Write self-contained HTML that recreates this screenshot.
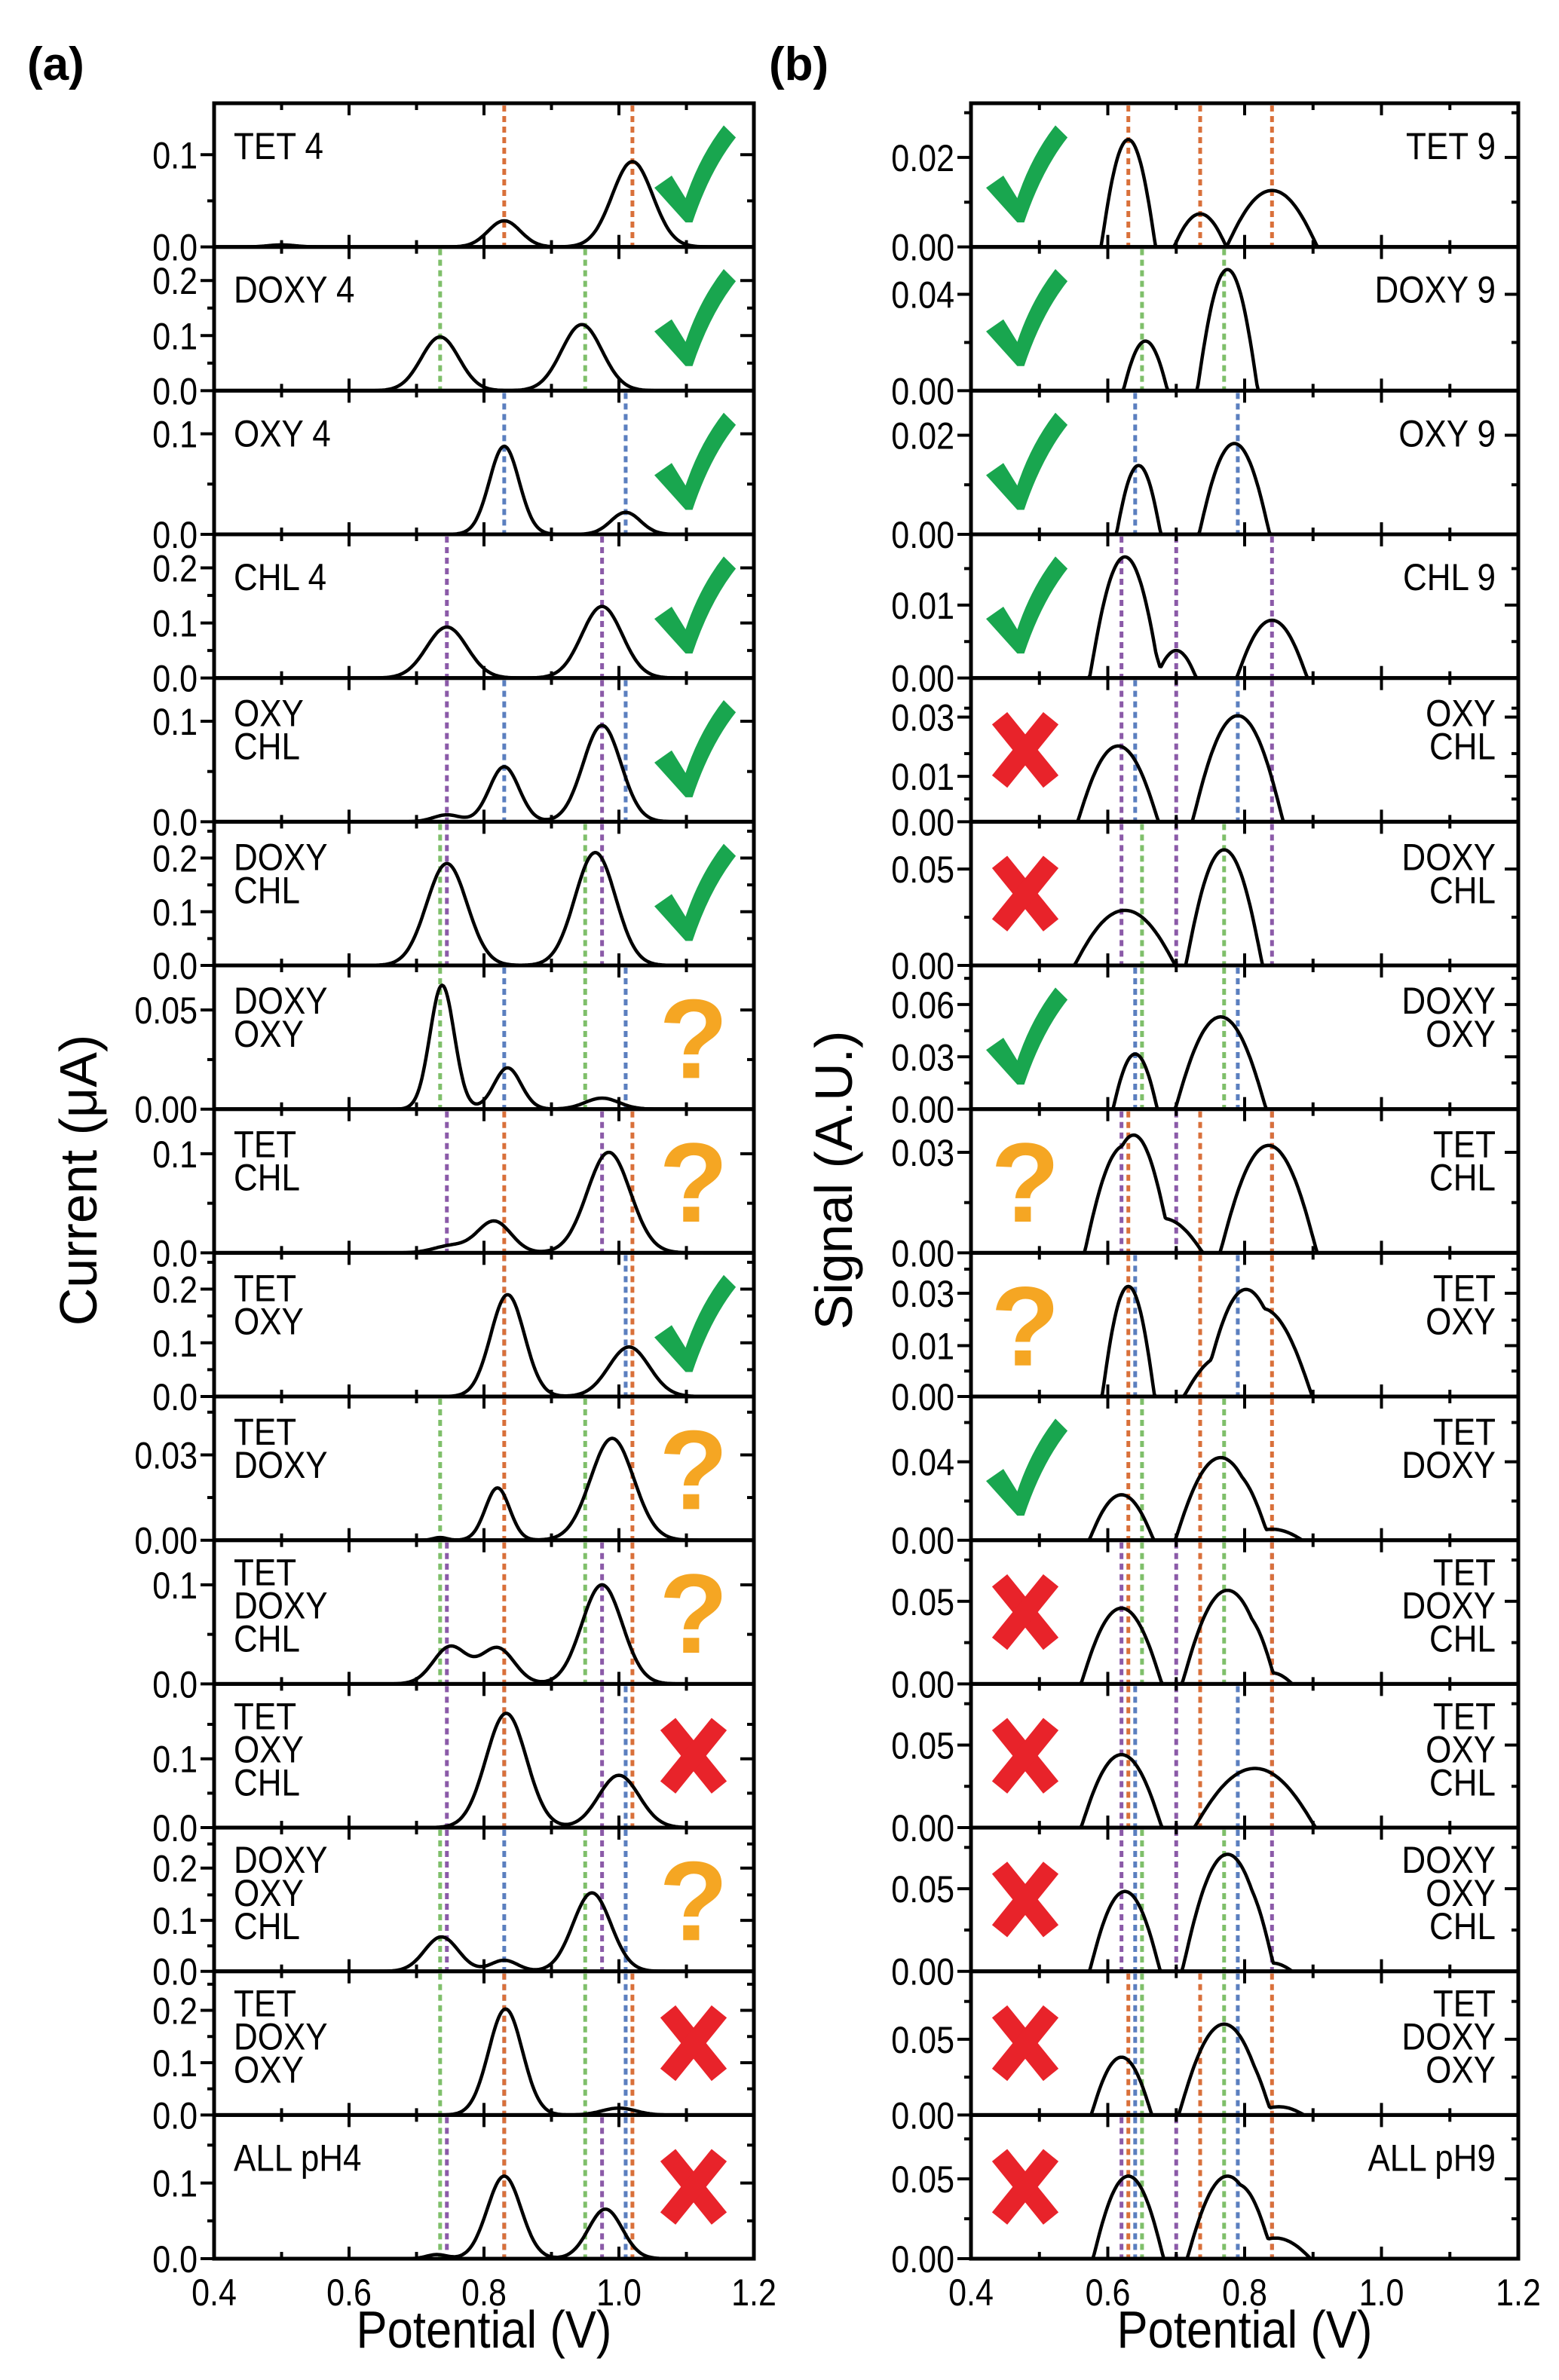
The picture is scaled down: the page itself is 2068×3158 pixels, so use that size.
<!DOCTYPE html>
<html><head><meta charset="utf-8">
<style>
html,body{margin:0;padding:0;background:#fff;}
svg{display:block;}
text{font-family:"Liberation Sans",Arial,sans-serif;}
</style></head>
<body>
<svg id="s" width="2068" height="3158" viewBox="0 0 2068 3158" xmlns="http://www.w3.org/2000/svg"></svg>
<script>
const S=document.getElementById('s');
let out='';
const TOP=137, H=190.67;
const COL={T:'#d9703a',D:'#7fbf6a',O:'#5b7fbf',C:'#8b5aa8'};
const REFL={T:[0.83,1.02],D:[0.735,0.95],O:[0.83,1.01],C:[0.745,0.975]};
const REFR={T:[0.63,0.735,0.84],D:[0.65,0.77],O:[0.64,0.79],C:[0.62,0.70,0.84]};
const PL={x0:284,x1:1000}, PR={x0:1288,x1:2014};
const L=[
 [['TET 4'],'T',[[0,'0.0'],[0.67,'0.1']],[[0.5,0.015,0.02],[0.83,0.19,0.024],[1.02,0.62,0.03]],'c'],
 [['DOXY 4'],'D',[[0,'0.0'],[0.4,'0.1'],[0.8,'0.2']],[[0.735,0.39,0.028],[0.945,0.48,0.03]],'c'],
 [['OXY 4'],'O',[[0,'0.0'],[0.73,'0.1']],[[0.83,0.64,0.022],[1.01,0.16,0.022]],'c'],
 [['CHL 4'],'C',[[0,'0.0'],[0.4,'0.1'],[0.8,'0.2']],[[0.745,0.37,0.03],[0.975,0.52,0.03]],'c'],
 [['OXY','CHL'],'CO',[[0,'0.0'],[0.73,'0.1']],[[0.745,0.05,0.02],[0.83,0.4,0.022],[0.975,0.7,0.028]],'c'],
 [['DOXY','CHL'],'DC',[[0,'0.0'],[0.39,'0.1'],[0.78,'0.2']],[[0.745,0.74,0.03],[0.965,0.82,0.03]],'c'],
 [['DOXY','OXY'],'DO',[[0,'0.00'],[0.72,'0.05']],[[0.738,0.9,0.018],[0.835,0.3,0.02],[0.975,0.08,0.025]],'q'],
 [['TET','CHL'],'CT',[[0,'0.0'],[0.72,'0.1']],[[0.75,0.05,0.025],[0.815,0.23,0.025],[0.985,0.73,0.032]],'q'],
 [['TET','OXY'],'OT',[[0,'0.0'],[0.39,'0.1'],[0.78,'0.2']],[[0.835,0.74,0.025],[1.015,0.36,0.03]],'c'],
 [['TET','DOXY'],'DT',[[0,'0.00'],[0.62,'0.03']],[[0.735,0.02,0.01],[0.82,0.38,0.018],[0.99,0.74,0.032]],'q'],
 [['TET','DOXY','CHL'],'DCT',[[0,'0.0'],[0.72,'0.1']],[[0.75,0.27,0.025],[0.82,0.26,0.025],[0.975,0.72,0.03]],'q'],
 [['TET','OXY','CHL'],'COT',[[0,'0.0'],[0.5,'0.1']],[[0.833,0.83,0.03],[1.0,0.38,0.03]],'x'],
 [['DOXY','OXY','CHL'],'DCO',[[0,'0.0'],[0.37,'0.1'],[0.75,'0.2']],[[0.737,0.25,0.025],[0.83,0.08,0.02],[0.96,0.57,0.028]],'q'],
 [['TET','DOXY','OXY'],'DOT',[[0,'0.0'],[0.38,'0.1'],[0.76,'0.2']],[[0.832,0.77,0.025],[1.0,0.05,0.025]],'x'],
 [['ALL pH4'],'DCOT',[[0,'0.0'],[0.55,'0.1']],[[0.73,0.03,0.015],[0.83,0.6,0.025],[0.98,0.36,0.025]],'x']
];
const R=[
 [['TET 9'],'T',[[0,'0.00'],[0.65,'0.02']],[[0.63,0.78,0.027],[0.735,0.24,0.026],[0.84,0.41,0.045]],'c'],
 [['DOXY 9'],'D',[[0,'0.00'],[0.7,'0.04']],[[0.655,0.36,0.022],[0.775,0.88,0.03]],'c'],
 [['OXY 9'],'O',[[0,'0.00'],[0.72,'0.02']],[[0.645,0.5,0.022],[0.785,0.66,0.035]],'c'],
 [['CHL 9'],'C',[[0,'0.00'],[0.53,'0.01']],[[0.625,0.88,0.035],[0.70,0.2,0.02],[0.84,0.42,0.035]],'c'],
 [['OXY','CHL'],'CO',[[0,'0.00'],[0.33,'0.01'],[0.76,'0.03']],[[0.615,0.55,0.04],[0.79,0.77,0.045]],'x'],
 [['DOXY','CHL'],'DC',[[0,'0.00'],[0.7,'0.05']],[[0.625,0.4,0.05],[0.77,0.84,0.038]],'x'],
 [['DOXY','OXY'],'DO',[[0,'0.00'],[0.38,'0.03'],[0.76,'0.06']],[[0.64,0.4,0.022],[0.765,0.67,0.045]],'c'],
 [['TET','CHL'],'CT',[[0,'0.00'],[0.73,'0.03']],[[0.625,0.78,0.04],[0.68,0.25,0.04],[0.835,0.78,0.048]],'q'],
 [['TET','OXY'],'OT',[[0,'0.00'],[0.37,'0.01'],[0.75,'0.03']],[[0.63,0.8,0.026],[0.77,0.3,0.04],[0.825,0.64,0.05]],'q'],
 [['TET','DOXY'],'DT',[[0,'0.00'],[0.57,'0.04']],[[0.62,0.33,0.032],[0.765,0.6,0.045],[0.84,0.08,0.03]],'c'],
 [['TET','DOXY','CHL'],'DCT',[[0,'0.00'],[0.6,'0.05']],[[0.62,0.55,0.04],[0.775,0.68,0.045],[0.84,0.08,0.02]],'x'],
 [['TET','OXY','CHL'],'COT',[[0,'0.00'],[0.6,'0.05']],[[0.62,0.53,0.04],[0.815,0.43,0.06]],'x'],
 [['DOXY','OXY','CHL'],'DCO',[[0,'0.00'],[0.6,'0.05']],[[0.625,0.58,0.035],[0.775,0.85,0.045],[0.84,0.06,0.02]],'x'],
 [['TET','DOXY','OXY'],'DOT',[[0,'0.00'],[0.55,'0.05']],[[0.62,0.42,0.03],[0.77,0.66,0.045],[0.85,0.06,0.025]],'x'],
 [['ALL pH9'],'DCOT',[[0,'0.00'],[0.58,'0.05']],[[0.63,0.6,0.035],[0.775,0.6,0.04],[0.845,0.15,0.035]],'x']
];
function X(p,v){return p.x0+(v-0.4)/0.8*(p.x1-p.x0);}
function icon(type,cx,cy){
 if(type==='c'){
  out+=`<path transform="translate(${cx-52},${cy-66}) scale(1.15)" d="M0,72 L20,58 L36,84 Q52,36 80,0 L94,14 Q64,52 44,112 L36,112 Z" fill="#19a64f"/>`;
 }else if(type==='x'){
  out+=`<g stroke="#e8232a" stroke-width="26"><line x1="${cx-34}" y1="${cy-42}" x2="${cx+34}" y2="${cy+42}"/><line x1="${cx+34}" y1="${cy-42}" x2="${cx-34}" y2="${cy+42}"/></g>`;
 }else{
  out+=`<text x="${cx}" y="${cy+54}" font-size="150" font-weight="bold" fill="#f5a623" text-anchor="middle">?</text>`;
 }
}
function panel(p,d,i,side){
 const top=TOP+i*H, bot=top+H, ph=H-8;
 const [lines,refs,ticks,peaks,ic]=d;
 const REF=side==='L'?REFL:REFR;
 for(const k of refs){for(const v of REF[k]){const x=X(p,v);
  out+=`<line x1="${x}" y1="${top+3}" x2="${x}" y2="${bot-2}" stroke="${COL[k]}" stroke-width="5" stroke-dasharray="8 6"/>`;}}
 let pts=[];
 for(let k=0;k<=400;k++){const v=0.4+0.8*k/400;let y=0;
  for(const [c,h,s] of peaks){
   if(side==='L'){y+=h*Math.exp(-0.5*((v-c)/s)**2);}
   else{const u=(v-c)/s;const t=1-u*u/2.2; if(t>0) y+=h*Math.pow(t,1.1);}
  }
  pts.push(X(p,v).toFixed(1)+','+(bot-y*ph).toFixed(1));}
 out+=`<polyline points="${pts.join(' ')}" fill="none" stroke="#000" stroke-width="4.5" stroke-linejoin="round"/>`;
 const maj=ticks.map(t=>t[0]);const step=maj.length>1?maj[1]-maj[0]:0.4;
 for(let f=step/2; f<1; f+=step){ if(maj.some(m=>Math.abs(m-f)<0.01))continue;const y=bot-f*ph;
  out+=`<line x1="${p.x0-9}" y1="${y}" x2="${p.x0}" y2="${y}" stroke="#000" stroke-width="4"/><line x1="${p.x1-9}" y1="${y}" x2="${p.x1}" y2="${y}" stroke="#000" stroke-width="4"/>`;}
 for(const [f,lab] of ticks){const y=bot-f*ph;
  out+=`<line x1="${p.x0-18}" y1="${y}" x2="${p.x0}" y2="${y}" stroke="#000" stroke-width="4"/><line x1="${p.x1-18}" y1="${y}" x2="${p.x1}" y2="${y}" stroke="#000" stroke-width="4"/>`;
  out+=`<text x="${(p.x0-22)/0.86}" y="${y+18}" font-size="50" text-anchor="end" transform="scale(0.86,1)">${lab}</text>`;
 }
 for(let v=0.5;v<1.2;v+=0.1){const x=X(p,v);const len=(Math.round(v*10)%2===0)?16:9;
  out+=`<line x1="${x}" y1="${bot}" x2="${x}" y2="${bot-len}" stroke="#000" stroke-width="4"/><line x1="${x}" y1="${top}" x2="${x}" y2="${top+len}" stroke="#000" stroke-width="4"/>`;}
 out+=`<rect x="${p.x0}" y="${top}" width="${p.x1-p.x0}" height="${H}" fill="none" stroke="#000" stroke-width="5"/>`;
 const n=lines.length; let b0=n===1?top+74:(n===2?top+64:top+60);
 lines.forEach((t,j)=>{const y=b0+j*44;
  if(side==='L') out+=`<text x="${(p.x0+26)/0.88}" y="${y}" font-size="50" transform="scale(0.88,1)">${t}</text>`;
  else out+=`<text x="${1984/0.88}" y="${y}" font-size="50" text-anchor="end" transform="scale(0.88,1)">${t}</text>`;});
 icon(ic, side==='L'?920:1360, top+H/2);
}
L.forEach((d,i)=>panel(PL,d,i,'L'));
R.forEach((d,i)=>panel(PR,d,i,'R'));
const bottom=TOP+15*H;
for(const p of [PL,PR]){
 ['0.4','0.6','0.8','1.0','1.2'].forEach((t,k)=>{const x=X(p,0.4+0.2*k);
  out+=`<text x="${x/0.86}" y="${bottom+62}" font-size="50" text-anchor="middle" transform="scale(0.86,1)">${t}</text>`;});
 out+=`<text x="${((p.x0+p.x1)/2)/0.88}" y="${bottom+118}" font-size="70" text-anchor="middle" transform="scale(0.88,1)">Potential (V)</text>`;
}
out+=`<text x="0" y="0" font-size="70" text-anchor="middle" transform="translate(128,1566) rotate(-90)">Current (μA)</text>`;
out+=`<text x="0" y="0" font-size="70" text-anchor="middle" transform="translate(1130,1566) rotate(-90)">Signal (A.U.)</text>`;
out+=`<text x="36" y="106" font-size="62" font-weight="bold">(a)</text>`;
out+=`<text x="1020" y="106" font-size="62" font-weight="bold">(b)</text>`;
S.innerHTML=out;
</script>
</body></html>
